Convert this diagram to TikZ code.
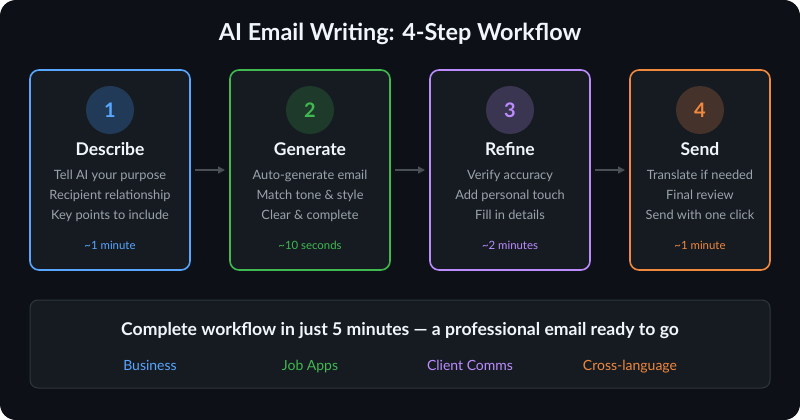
\documentclass[tikz,border=0pt]{standalone}
\usepackage{fontspec}
\setmainfont{Lato}
\usetikzlibrary{arrows.meta}
\definecolor{bgc}{HTML}{0D1117}
\definecolor{boxc}{HTML}{161B22}
\definecolor{edgec}{HTML}{30363D}
\definecolor{titlec}{HTML}{F0F6FC}
\definecolor{bodyc}{HTML}{9BA3AB}
\definecolor{arrc}{HTML}{4A4F55}
\definecolor{cblue}{HTML}{58A6FF}
\definecolor{cgreen}{HTML}{3FB950}
\definecolor{cpurple}{HTML}{BC8CFF}
\definecolor{corange}{HTML}{F0883E}
\definecolor{fblue}{HTML}{213A57}
\definecolor{fgreen}{HTML}{1E3A2A}
\definecolor{fpurple}{HTML}{3A3550}
\definecolor{forange}{HTML}{45322A}
\tikzset{
  x=1pt, y=-1pt,
  evenbox/.style={text height=#1, text depth=0pt},
  stepbox/.style={draw=#1, line width=1.6pt, fill=boxc, rounded corners=9pt},
  numcirc/.style={circle, minimum size=48pt, inner sep=0pt},
  numtxt/.style={evenbox=14.4pt, font=\fontsize{20}{24}\selectfont\bfseries},
  headtxt/.style={evenbox=12.6pt, font=\fontsize{17.5}{21}\selectfont\bfseries, text=titlec},
  bodytxt/.style={evenbox=9.2pt, font=\fontsize{12.8}{15}\selectfont, text=bodyc},
  timetxt/.style={evenbox=8.2pt, font=\fontsize{11.4}{13}\selectfont},
  flowarrow/.style={draw=arrc, line width=1.5pt, -{Triangle[length=7pt,width=7pt]}},
  labtxt/.style={evenbox=10.1pt, font=\fontsize{14}{17}\selectfont},
}
\begin{document}
\begin{tikzpicture}
\useasboundingbox (0,0) rectangle (800,420);
\fill[white] (0,0) rectangle (800,420);
\fill[bgc, rounded corners=16pt] (0,0) rectangle (800,420);
\node[evenbox=16.8pt, font=\fontsize{23.4}{28}\selectfont\bfseries, text=titlec] (title) at (400,32) {AI Email Writing: 4-Step Workflow};

% boxes
\draw[stepbox=cblue] (30,70) rectangle (190,270);
\draw[stepbox=cgreen] (230,70) rectangle (390,270);
\draw[stepbox=cpurple] (430,70) rectangle (590,270);
\draw[stepbox=corange] (630,70) rectangle (770,270);
\coordinate (b1r) at (190,170);
\coordinate (b2l) at (230,170);
\coordinate (b2r) at (390,170);
\coordinate (b3l) at (430,170);
\coordinate (b3r) at (590,170);
\coordinate (b4l) at (630,170);

% step 1
\node[numcirc, fill=fblue] (c1) at (110,110) {};
\node[numtxt, text=cblue] (n1) at (c1) {1};
\node[headtxt] (h1) at (110,149) {Describe};
\node[bodytxt] (t1a) at (110,175) {Tell AI your purpose};
\node[bodytxt] (t1b) at (110,195) {Recipient relationship};
\node[bodytxt] (t1c) at (110,215) {Key points to include};
\node[timetxt, text=cblue] (m1) at (110,245) {\textasciitilde1 minute};

% step 2
\node[numcirc, fill=fgreen] (c2) at (310,110) {};
\node[numtxt, text=cgreen] (n2) at (c2) {2};
\node[headtxt] (h2) at (310,149) {Generate};
\node[bodytxt] (t2a) at (310,175) {Auto-generate email};
\node[bodytxt] (t2b) at (310,195) {Match tone \& style};
\node[bodytxt] (t2c) at (310,215) {Clear \& complete};
\node[timetxt, text=cgreen] (m2) at (310,245) {\textasciitilde10 seconds};

% step 3
\node[numcirc, fill=fpurple] (c3) at (510,110) {};
\node[numtxt, text=cpurple] (n3) at (c3) {3};
\node[headtxt] (h3) at (510,149) {Refine};
\node[bodytxt] (t3a) at (510,175) {Verify accuracy};
\node[bodytxt] (t3b) at (510,195) {Add personal touch};
\node[bodytxt] (t3c) at (510,215) {Fill in details};
\node[timetxt, text=cpurple] (m3) at (510,245) {\textasciitilde2 minutes};

% step 4
\node[numcirc, fill=forange] (c4) at (700,110) {};
\node[numtxt, text=corange] (n4) at (c4) {4};
\node[headtxt] (h4) at (700,149) {Send};
\node[bodytxt] (t4a) at (700,175) {Translate if needed};
\node[bodytxt] (t4b) at (700,195) {Final review};
\node[bodytxt] (t4c) at (700,215) {Send with one click};
\node[timetxt, text=corange] (m4) at (700,245) {\textasciitilde1 minute};

% arrows
\draw[flowarrow] ([xshift=5pt]b1r) -- ([xshift=-5pt]b2l);
\draw[flowarrow] ([xshift=5pt]b2r) -- ([xshift=-5pt]b3l);
\draw[flowarrow] ([xshift=5pt]b3r) -- ([xshift=-5pt]b4l);

% bottom panel
\draw[draw=edgec, line width=1pt, fill=boxc, rounded corners=8pt] (30,300) rectangle (770,388);
\node[evenbox=12.7pt, font=\fontsize{17.6}{21}\selectfont\bfseries, text=titlec] (sum) at (400,329) {Complete workflow in just 5 minutes — a professional email ready to go};
\node[labtxt, text=cblue] (l1) at (150,365) {Business};
\node[labtxt, text=cgreen] (l2) at (310,365) {Job Apps};
\node[labtxt, text=cpurple] (l3) at (470,365) {Client Comms};
\node[labtxt, text=corange] (l4) at (630,365) {Cross-language};
\end{tikzpicture}
\end{document}
